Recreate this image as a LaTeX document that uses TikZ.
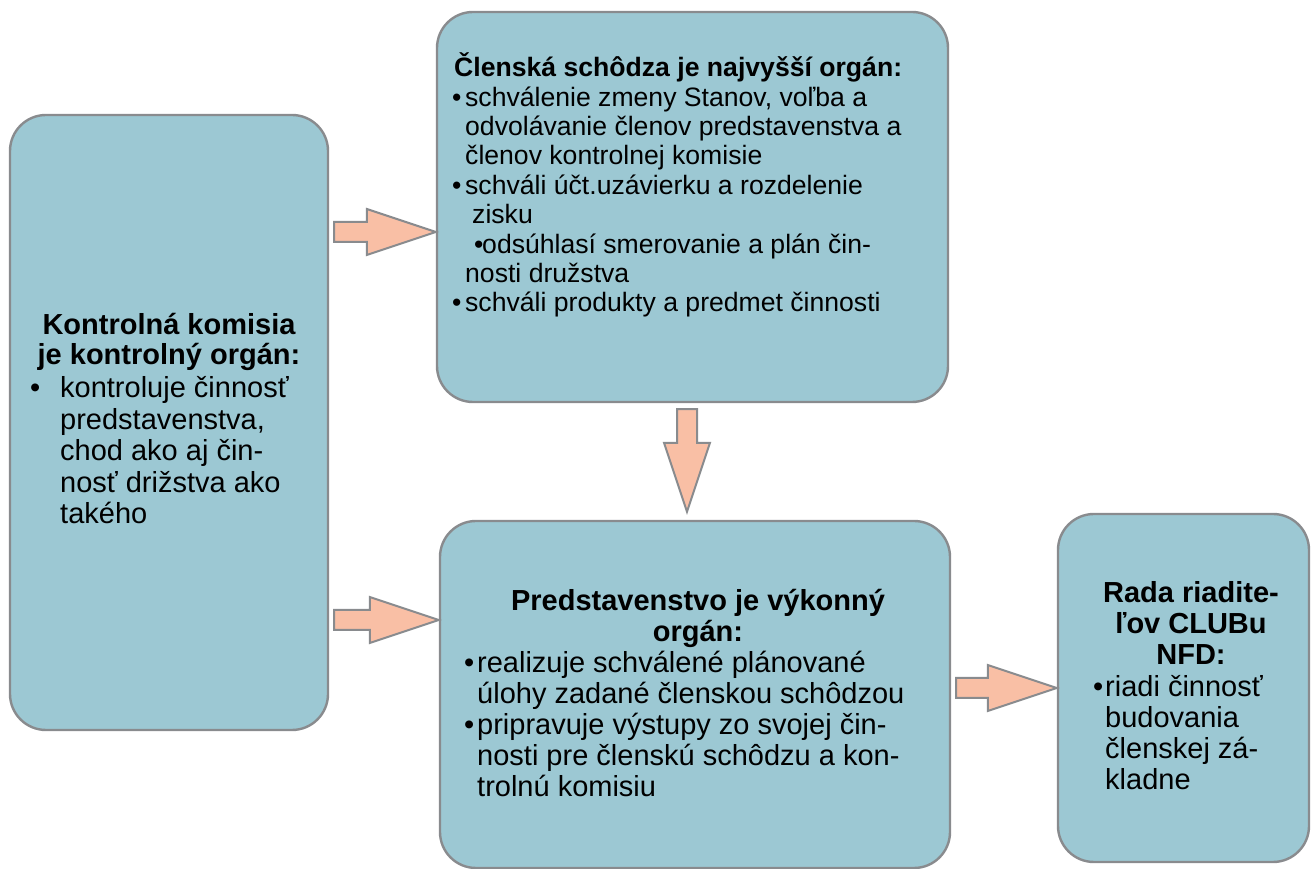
\documentclass[tikz,border=0pt]{standalone}
\usepackage{fontspec}
\setmainfont{Liberation Sans}
\usetikzlibrary{calc}
\definecolor{box_fill}{HTML}{9CC8D3}
\definecolor{arrow_fill}{HTML}{F9BFA5}
\definecolor{edge_gray}{HTML}{898B8E}
\tikzset{
  org_box/.style={draw=edge_gray, fill=box_fill, line width=2.4pt, rounded corners=36pt, inner sep=0pt},
  fat_arrow/.style={draw=edge_gray, fill=arrow_fill, line width=2pt, line join=miter},
  head_text/.style={align=center, anchor=base, inner sep=0pt},
  body_text/.style={align=left, anchor=base west, inner sep=0pt}
}
\def\BulletBox#1{\makebox[#1][l]{•}}
\def\FatArrow#1#2{%
  \coordinate (neck) at ($(#2)!69pt!(#1)$);
  \path[fat_arrow] ($(#1)!10pt!90:(#2)$) -- ($(neck)!10pt!90:(#2)$) -- ($(neck)!23pt!90:(#2)$)
    -- (#2) -- ($(neck)!23pt!-90:(#2)$) -- ($(neck)!10pt!-90:(#2)$) -- ($(#1)!10pt!-90:(#2)$) -- cycle;
}

\begin{document}
\begin{tikzpicture}[x=1pt,y=1pt]
  \useasboundingbox (0,0) rectangle (1311,869);
  % the four bodies
  \node[org_box, minimum width=318pt, minimum height=615pt] (kontrola) at (169,446.5) {};
  \node[org_box, minimum width=511pt, minimum height=390pt] (schodza) at (692.5,662) {};
  \node[org_box, minimum width=510pt, minimum height=347pt] (predst) at (695,174.5) {};
  \node[org_box, minimum width=251pt, minimum height=348pt] (rada) at (1183.5,181) {};

  % texts (anchored on their last line)
  \node[head_text, font=\fontsize{29}{30.5}\selectfont\bfseries] (kontrola_head) at (169,504)
    {Kontrolná komisia\\je kontrolný orgán:};
  \node[body_text, font=\fontsize{29}{31.6}\selectfont] (kontrola_body) at (30,345)
    {\BulletBox{30pt}kontroluje činnosť\\
     \hspace*{30pt}predstavenstva,\\
     \hspace*{30pt}chod ako aj čin-\\
     \hspace*{30pt}nosť drižstva ako\\
     \hspace*{30pt}takého};
  \node[body_text, font=\fontsize{26.6}{29.4}\selectfont] (schodza_body) at (452,557)
    {\hspace*{2pt}\textbf{Členská schôdza je najvyšší orgán:}\\
     \BulletBox{13pt}schválenie zmeny Stanov, voľba a\\
     \hspace*{13pt}odvolávanie členov predstavenstva a\\
     \hspace*{13pt}členov kontrolnej komisie\\
     \BulletBox{13pt}schváli účt.uzávierku a rozdelenie\\
     \hspace*{20pt}zisku\\
     \hspace*{22pt}\BulletBox{8pt}odsúhlasí smerovanie a plán čin-\\
     \hspace*{13pt}nosti družstva\\
     \BulletBox{13pt}schváli produkty a predmet činnosti};
  \node[head_text, font=\fontsize{29}{31}\selectfont\bfseries] (predst_head) at (698,227)
    {Predstavenstvo je výkonný\\orgán:};
  \node[body_text, font=\fontsize{29}{31}\selectfont] (predst_body) at (464,72)
    {\BulletBox{13pt}realizuje schválené plánované\\
     \hspace*{13pt}úlohy zadané členskou schôdzou\\
     \BulletBox{13pt}pripravuje výstupy zo svojej čin-\\
     \hspace*{13pt}nosti pre členskú schôdzu a kon-\\
     \hspace*{13pt}trolnú komisiu};
  \node[head_text, font=\fontsize{29}{31.3}\selectfont\bfseries] (rada_head) at (1191,204)
    {Rada riadite-\\ľov CLUBu\\NFD:};
  \node[body_text, font=\fontsize{29}{31.3}\selectfont] (rada_body) at (1093,79)
    {\BulletBox{12pt}riadi činnosť\\
     \hspace*{12pt}budovania\\
     \hspace*{12pt}členskej zá-\\
     \hspace*{12pt}kladne};

  % arrow ends
  \coordinate (a1_tip) at ([yshift=-25pt]schodza.west);
  \path (kontrola.east |- a1_tip) ++(5,0) coordinate (a1_tail);
  \coordinate (a2_tip) at ([yshift=74.5pt]predst.west);
  \path (kontrola.east |- a2_tip) ++(5,0) coordinate (a2_tail);
  \path (schodza.south) ++(-5.5,-6) coordinate (a3_tail);
  \path (a3_tail |- predst.north) ++(0,8) coordinate (a3_tip);
  \path (predst.east |- rada.west) ++(5,0) coordinate (a4_tail);
  \coordinate (a4_tip) at (rada.west);
  \foreach \s/\t in {a1_tail/a1_tip, a2_tail/a2_tip, a3_tail/a3_tip, a4_tail/a4_tip} {
      \FatArrow{\s}{\t}
    }
\end{tikzpicture}
\end{document}
